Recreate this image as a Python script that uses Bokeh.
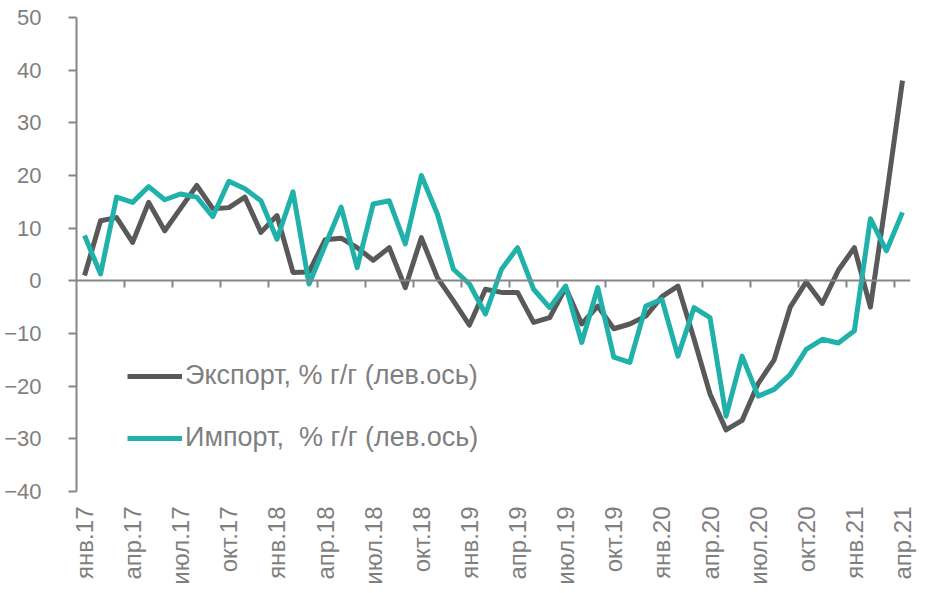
import math
from bokeh.plotting import figure
from bokeh.models import (Range1d, FixedTicker, LinearAxis, Legend, LegendItem,
                          ColumnDataSource)
from bokeh.embed import file_html
from bokeh.resources import INLINE

months = ["янв", "фев", "мар", "апр", "май", "июн", "июл", "авг", "сен", "окт", "ноя", "дек"]
years = ["17", "18", "19", "20", "21"]
labels = [f"{m}.{y}" for y in years for m in months][:52]

export_vals = [1.0, 11.4, 12.0, 7.3, 14.9, 9.5, 13.8, 18.1, 13.7, 13.9, 15.9, 9.2,
               12.4, 1.6, 1.7, 7.8, 8.1, 6.3, 3.9, 6.3, -1.3, 8.2, 0.6, -3.8,
               -8.4, -1.6, -2.2, -2.2, -7.9, -7.0, -1.3, -8.2, -4.8, -9.1, -8.2, -6.7,
               -3.0, -1.0, -11.0, -21.5, -28.3, -26.5, -19.5, -15.0, -5.0, -0.2, -4.3, 2.0,
               6.3, -5.0, 16.0, 38.0]
import_vals = [8.6, 1.3, 15.9, 14.9, 17.9, 15.4, 16.5, 15.9, 12.2, 18.9, 17.5, 15.2,
               7.9, 16.9, -0.6, 6.7, 14.0, 2.5, 14.6, 15.2, 7.0, 20.0, 12.7, 2.2,
               -0.6, -6.3, 2.2, 6.3, -1.6, -5.1, -1.0, -11.7, -1.3, -14.5, -15.5, -4.8,
               -3.5, -14.3, -5.1, -7.0, -25.7, -14.3, -21.9, -20.6, -17.8, -13.0, -11.1, -11.8,
               -9.5, 11.8, 5.7, 13.0]
y_ticks = [-40, -30, -20, -10, 0, 10, 20, 30, 40, 50]
series_names = ["Экспорт, % г/г (лев.ось)", "Импорт,  % г/г (лев.ось)"]

x = list(range(len(labels)))
src = ColumnDataSource(dict(x=x, exp=export_vals, imp=import_vals))

FONT = "Liberation Sans"
TXT = "#7f7f7f"
AX = "#868686"

p = figure(width=920, height=587, output_backend="svg", toolbar_location=None,
           x_range=Range1d(-0.5, len(labels) - 0.5), y_range=Range1d(-40, 50),
           min_border_left=76, min_border_right=10, min_border_top=17, min_border_bottom=96,
           x_axis_type=None, y_axis_type=None)
p.outline_line_color = None
p.background_fill_color = "white"

# Y axis
yax = LinearAxis(ticker=FixedTicker(ticks=y_ticks))
yax.axis_line_color = AX
yax.axis_line_width = 2
yax.major_tick_line_color = AX
yax.major_tick_line_width = 2
yax.major_tick_out = 8
yax.major_tick_in = 0
yax.minor_tick_out = 0
yax.minor_tick_in = 0
yax.major_label_text_font = FONT
yax.major_label_text_font_size = "22px"
yax.major_label_text_color = TXT
yax.major_label_standoff = 27
p.add_layout(yax, "left")

# grid
p.ygrid.ticker = FixedTicker(ticks=y_ticks)
p.ygrid.grid_line_color = "#c0c0c0"
p.ygrid.grid_line_width = 2
p.xgrid.visible = False

# X labels axis (bottom)
lab_ticks = list(range(0, len(labels), 3))
xax = LinearAxis(ticker=FixedTicker(ticks=lab_ticks))
xax.major_label_overrides = {i: labels[i] for i in lab_ticks}
xax.major_label_orientation = math.pi / 2
xax.axis_line_color = None
xax.major_tick_line_color = None
xax.minor_tick_line_color = None
xax.major_tick_out = 0
xax.major_tick_in = 0
xax.major_label_text_font = FONT
xax.major_label_text_font_size = "24px"
xax.major_label_text_color = TXT
xax.major_label_standoff = 15
p.add_layout(xax, "below")

# zero axis with tick marks between category groups
bounds = [t - 0.5 for t in range(3, len(labels), 3)]
zax = LinearAxis(ticker=FixedTicker(ticks=[], minor_ticks=bounds), fixed_location=0)
zax.axis_line_color = AX
zax.axis_line_width = 2
zax.minor_tick_line_color = AX
zax.minor_tick_line_width = 2
zax.minor_tick_out = 7
zax.minor_tick_in = 0
zax.major_tick_out = 0
zax.major_tick_in = 0
zax.major_label_text_font_size = "0px"
zax.major_label_standoff = 0
p.add_layout(zax, "below")

r1 = p.line("x", "exp", source=src, line_color="#595959", line_width=5, line_join="round")
r2 = p.line("x", "imp", source=src, line_color="#20b2aa", line_width=5, line_join="round")

legend = Legend(items=[LegendItem(label=series_names[0], renderers=[r1]),
                       LegendItem(label=series_names[1], renderers=[r2])],
                location=(51, 38))
legend.label_text_font = FONT
legend.label_text_font_size = "27px"
legend.label_text_color = TXT
legend.glyph_width = 55
legend.glyph_height = 30
legend.label_height = 30
legend.label_standoff = 3
legend.spacing = 31
legend.padding = 20
legend.margin = 0
legend.border_line_color = None
legend.background_fill_color = "white"
legend.background_fill_alpha = 1.0
p.add_layout(legend, "center")

open("out.html", "w").write(file_html(p, INLINE))
